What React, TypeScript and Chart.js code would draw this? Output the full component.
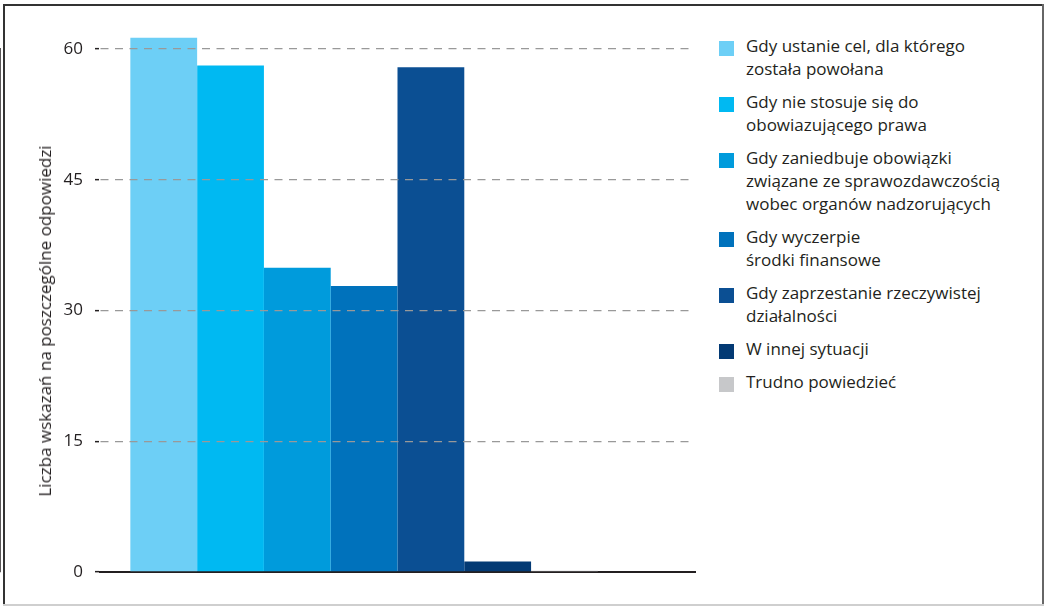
import React, { useEffect, useRef } from "react";
import { Chart, registerables } from "chart.js";

Chart.register(...registerables);

const categories = ["Odpowiedzi"];
const seriesLabels: string[][] = [
  ["Gdy ustanie cel, dla którego", "została powołana"],
  ["Gdy nie stosuje się do", "obowiazującego prawa"],
  ["Gdy zaniedbuje obowiązki", "związane ze sprawozdawczością", "wobec organów nadzorujących"],
  ["Gdy wyczerpie", "środki finansowe"],
  ["Gdy zaprzestanie rzeczywistej", "działalności"],
  ["W innej sytuacji"],
  ["Trudno powiedzieć"],
];
const seriesValues = [61.3, 58.1, 34.9, 32.8, 57.9, 1.2, 0.15];
const seriesColors = ["#6dcff6", "#00b9f2", "#009bdc", "#0072bc", "#0b4f93", "#033a74", "#c7c8ca"];
const yTicks = [0, 15, 30, 45, 60];
const yTitle = "Liczba wskazań na poszczególne odpowiedzi";

const FONT = "'Open Sans', sans-serif";
const TEXT = "#231f20";

export default function App() {
  const ref = useRef<HTMLCanvasElement>(null);

  useEffect(() => {
    if (!ref.current) return;
    const datasets: any[] = seriesValues.map((v, i) => ({
      label: seriesLabels[i].join(" "),
      data: [v],
      backgroundColor: seriesColors[i],
      borderWidth: 0,
      clip: false,
    }));
    // empty slot that keeps the group positioned like the original
    datasets.push({ label: "", data: [null], backgroundColor: "transparent", borderWidth: 0 });

    const chart = new Chart(ref.current, {
      type: "bar",
      data: { labels: categories, datasets },
      options: {
        animation: false,
        responsive: false,
        events: [],
        layout: { padding: { left: 0, right: 10, top: 49, bottom: 28 } },
        plugins: { legend: { display: false }, tooltip: { enabled: false } },
        datasets: { bar: { categoryPercentage: 0.898, barPercentage: 1 } },
        scales: {
          x: {
            ticks: { display: false },
            grid: { display: false, drawTicks: false },
            border: { display: true, color: "#231f20", width: 2 },
            afterFit: (s: any) => { s.height = 0; },
          },
          y: {
            min: 0,
            max: 60,
            afterBuildTicks: (s: any) => { s.ticks = yTicks.map((v) => ({ value: v })); },
            ticks: {
              color: TEXT,
              padding: 12,
              font: { family: FONT, size: 17 },
            },
            grid: {
              z: 1,
              color: (c: any) => (c.tick && c.tick.value === 0 ? "rgba(0,0,0,0)" : "#999999"),
              lineWidth: 1.3,
              tickLength: 5,
              tickColor: "#231f20",
              tickBorderDash: [],
              tickWidth: 1.5,
            } as any,
            border: { display: true, color: "#231f20", width: 1.5, dash: [8, 6.5] },
            afterFit: (s: any) => { s.width = 100; },
          },
        },
      },
    });
    return () => chart.destroy();
  }, []);

  return (
    <div style={{ position: "absolute", left: 0, top: 0, width: 1045, height: 606, background: "#fff", fontFamily: FONT }}>
      <canvas ref={ref} width={705} height={600} style={{ position: "absolute", left: 0, top: 0, width: 705, height: 600 }} />
      <div
        style={{
          position: "absolute",
          left: 45,
          top: 321,
          transform: "translate(-50%, -50%) rotate(-90deg)",
          fontSize: 17,
          lineHeight: "20px",
          color: TEXT,
          whiteSpace: "nowrap",
        }}
      >
        {yTitle}
      </div>
      <div style={{ position: "absolute", left: 719, top: 34, display: "flex", flexDirection: "column", gap: 10 }}>
        {seriesLabels.map((lines, i) => (
          <div key={i} style={{ position: "relative", paddingLeft: 27 }}>
            <div style={{ position: "absolute", left: 0, top: 7, width: 15, height: 15, background: seriesColors[i] }} />
            {lines.map((t, j) => (
              <div key={j} style={{ fontSize: 17, lineHeight: "23px", color: TEXT, whiteSpace: "nowrap" }}>{t}</div>
            ))}
          </div>
        ))}
      </div>
      <div style={{ position: "absolute", left: 3, top: 4, width: 1041, height: 2, background: "#333" }} />
      <div style={{ position: "absolute", left: 3, top: 4, width: 2, height: 602, background: "#333" }} />
      <div style={{ position: "absolute", left: 1042, top: 4, width: 2, height: 602, background: "#666" }} />
      <div style={{ position: "absolute", left: 3, top: 604, width: 1041, height: 2, background: "#cfcfcf" }} />
    </div>
  );
}
